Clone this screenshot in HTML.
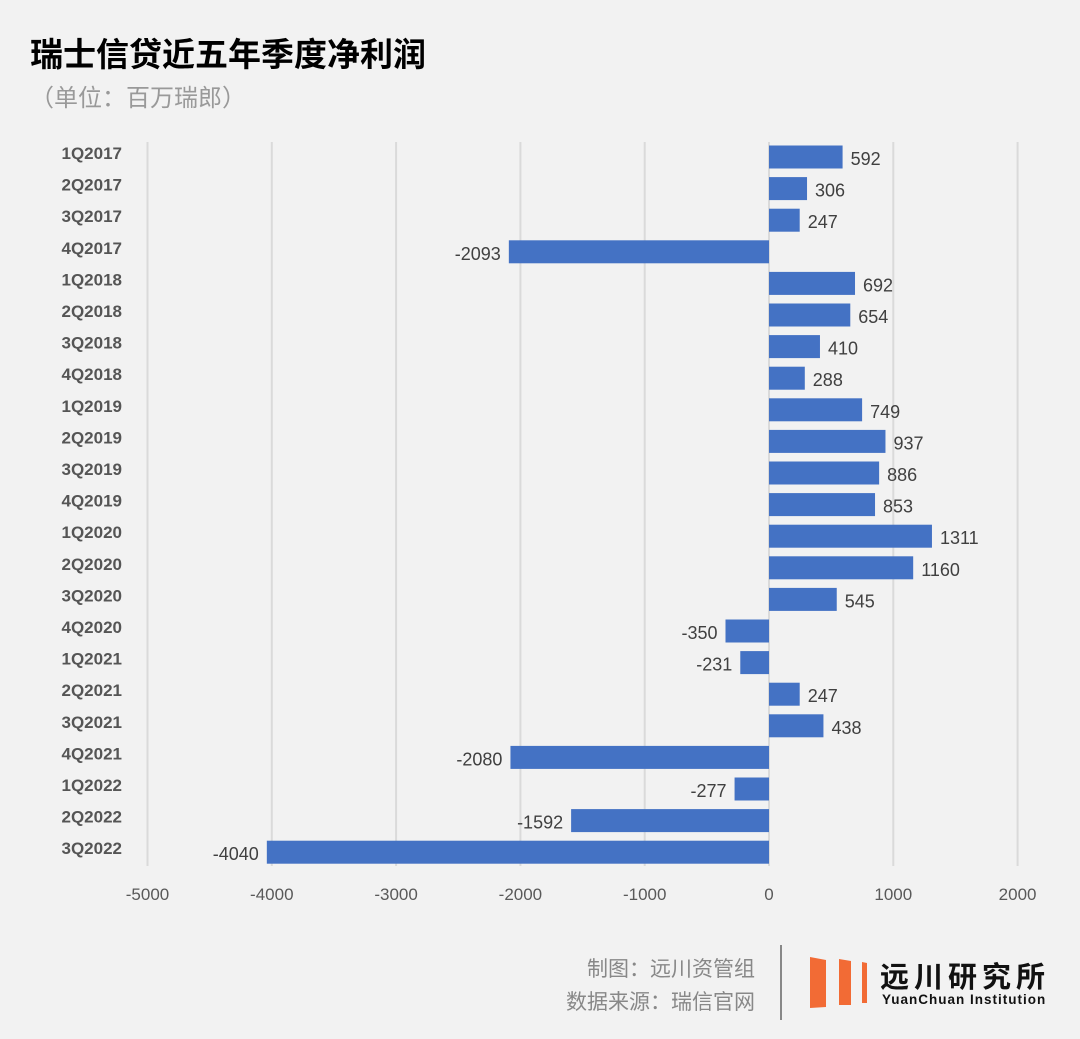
<!DOCTYPE html>
<html><head><meta charset="utf-8"><style>
body{margin:0;background:#f2f2f2;width:1080px;height:1034px;overflow:hidden;font-family:"Liberation Sans","Noto Sans CJK SC",sans-serif}
</style></head><body>
<svg width="1080" height="1034" xmlns="http://www.w3.org/2000/svg">
<rect width="1080" height="1034" fill="#f2f2f2"/>
<text x="30" y="66" font-size="33" font-weight="bold" fill="#000" font-family="Noto Sans CJK SC, sans-serif">瑞士信贷近五年季度净利润</text>
<text x="30" y="106" font-size="24" fill="#999" font-family="Noto Sans CJK SC, sans-serif">（单位：百万瑞郎）</text>
<g id="grid"></g><g id="bars"></g><g id="labels"></g>
<text x="755" y="976" font-size="21" fill="#888" text-anchor="end" font-family="Noto Sans CJK SC, sans-serif">制图：远川资管组</text>
<text x="755" y="1009" font-size="21" fill="#888" text-anchor="end" font-family="Noto Sans CJK SC, sans-serif">数据来源：瑞信官网</text>
<line x1="781" y1="945" x2="781" y2="1020" stroke="#888" stroke-width="2"/>
<g fill="#f26b35">
<polygon points="810,957 826,960 826,1007 810,1008"/>
<polygon points="839,959 851,961 851,1005 839,1005"/>
<polygon points="862,962 867,963 867,1003 862,1003"/>
</g>
<text x="880" y="987" font-size="29" font-weight="bold" fill="#111" letter-spacing="5" font-family="Noto Sans CJK SC, sans-serif">远川研究所</text>
<text x="882" y="1004" font-size="13.5" font-weight="bold" fill="#111" letter-spacing="1">YuanChuan Institution</text>
</svg>
<script>
const categories=["1Q2017","2Q2017","3Q2017","4Q2017","1Q2018","2Q2018","3Q2018","4Q2018","1Q2019","2Q2019","3Q2019","4Q2019","1Q2020","2Q2020","3Q2020","4Q2020","1Q2021","2Q2021","3Q2021","4Q2021","1Q2022","2Q2022","3Q2022"];
const values=[592,306,247,-2093,692,654,410,288,749,937,886,853,1311,1160,545,-350,-231,247,438,-2080,-277,-1592,-4040];
const ticks=[-5000,-4000,-3000,-2000,-1000,0,1000,2000];
const NS="http://www.w3.org/2000/svg";
const x=v=>769+v*0.1243;
const y=i=>157+i*31.6;
function mk(t,a,p,txt){const e=document.createElementNS(NS,t);for(const k in a)e.setAttribute(k,a[k]);if(txt!=null)e.textContent=txt;document.getElementById(p).appendChild(e);return e;}
ticks.forEach(t=>{
 const l=mk('line',{x1:x(t),x2:x(t),y1:142,y2:866,stroke:'#dadada','stroke-width':2},'grid');
 
 
 const tx=mk('text',{x:x(t),y:900,'font-size':17,fill:'#595959','text-anchor':'middle'},'labels',String(t));
 
 
});
categories.forEach((c,i)=>{
 const v=values[i];
 const r=mk('rect',{x:Math.min(x(0),x(v)),y:y(i)-11.5,width:Math.abs(x(v)-x(0)),height:23,fill:'#4472c4'},'bars');
 
 
 const cl=mk('text',{x:122,y:y(i)+2,'font-size':17,'font-weight':'bold',fill:'#555','text-anchor':'end'},'labels',c);
 
 
 const vl=mk('text',{x:v>=0?x(v)+8:x(v)-8,y:y(i)+8,'font-size':18,fill:'#404040','text-anchor':v>=0?'start':'end'},'labels',String(v));
 
 
});
</script>
</body></html>
